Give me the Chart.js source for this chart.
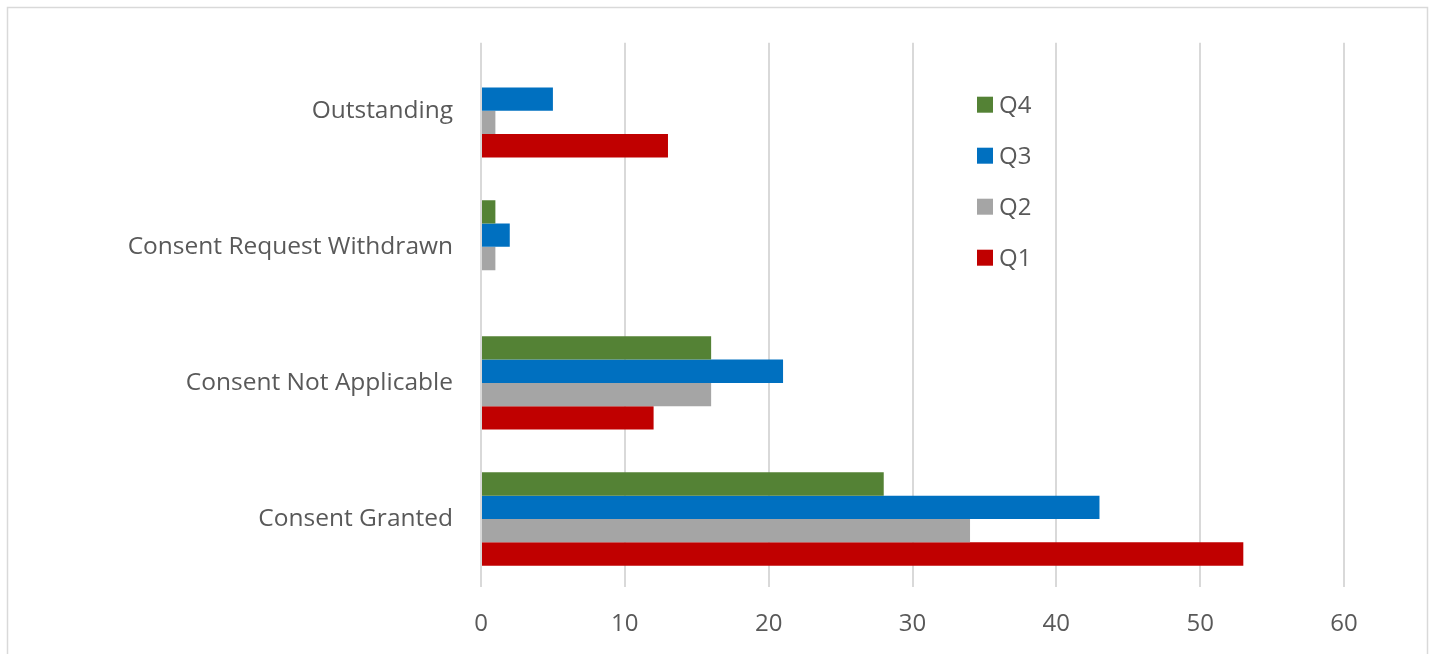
<!DOCTYPE html>
<html>
<head>
<meta charset="utf-8">
<script src="https://cdn.jsdelivr.net/npm/chart.js@4"></script>
<style>
  html, body { margin: 0; padding: 0; background: #fff; }
  #wrap { width: 1434px; height: 654px; }
</style>
</head>
<body>
<div id="wrap"><canvas id="chart" width="1434" height="654"></canvas></div>
<script>
const categories = ['Outstanding', 'Consent Request Withdrawn', 'Consent Not Applicable', 'Consent Granted'];
const quarters = ['Q4', 'Q3', 'Q2', 'Q1'];
const q4 = [0, 1, 16, 28];
const q3 = [5, 2, 21, 43];
const q2 = [1, 1, 16, 34];
const q1 = [13, 0, 12, 53];
const xTicks = [0, 10, 20, 30, 40, 50, 60];

const colors = ['#548235', '#0070c0', '#a5a5a5', '#c00000'];
const textColor = '#595959';
const fontFamily = '"Open Sans", "Noto Sans", sans-serif';

// light frame round the whole chart
const framePlugin = {
    id: 'frame',
    beforeDraw(chart) {
        const ctx = chart.ctx;
        ctx.save();
        ctx.strokeStyle = '#d9d9d9';
        ctx.lineWidth = 1.5;
        ctx.strokeRect(7.5, 7.5, 1420, 660);
        ctx.restore();
    }
};

// legend stacked vertically inside the plot, right of centre
const sideLegend = {
    id: 'sideLegend',
    afterDraw(chart) {
        const ctx = chart.ctx;
        const area = chart.chartArea;
        const x = area.left + 496;
        ctx.save();
        ctx.font = '24px ' + fontFamily;
        ctx.textBaseline = 'middle';
        chart.data.datasets.forEach((ds, i) => {
            const y = area.top + 62 + i * 51;
            ctx.fillStyle = ds.backgroundColor;
            ctx.fillRect(x, y - 8, 16, 16);
            ctx.fillStyle = textColor;
            ctx.fillText(ds.label, x + 22, y + 1);
        });
        ctx.restore();
    }
};

const seriesValues = [q4, q3, q2, q1];

new Chart(document.getElementById('chart'), {
    type: 'bar',
    data: {
        labels: categories,
        datasets: quarters.map((q, i) => ({
            label: q,
            data: seriesValues[i],
            backgroundColor: colors[i],
            borderWidth: 0,
            barPercentage: 1,
            categoryPercentage: 0.686
        }))
    },
    options: {
        indexAxis: 'y',
        responsive: false,
        animation: false,
        layout: { padding: { top: 41, right: 90, left: 0, bottom: 0 } },
        plugins: {
            legend: { display: false },
            tooltip: { enabled: false }
        },
        scales: {
            x: {
                min: 0,
                max: 60,
                afterBuildTicks(scale) {
                    scale.ticks = xTicks.map(v => ({ value: v }));
                },
                afterFit(scale) { scale.height = 67; },
                grid: { color: '#d9d9d9', lineWidth: 2, drawTicks: false },
                border: { display: false },
                ticks: {
                    padding: 23,
                    color: textColor,
                    font: { family: fontFamily, size: 24 }
                }
            },
            y: {
                afterFit(scale) { scale.width = 481; },
                grid: { display: false, drawTicks: false },
                border: { display: false },
                ticks: {
                    padding: 28,
                    color: textColor,
                    font: { family: fontFamily, size: 24.5 }
                }
            }
        }
    },
    plugins: [framePlugin, sideLegend]
});
</script>
</body>
</html>
